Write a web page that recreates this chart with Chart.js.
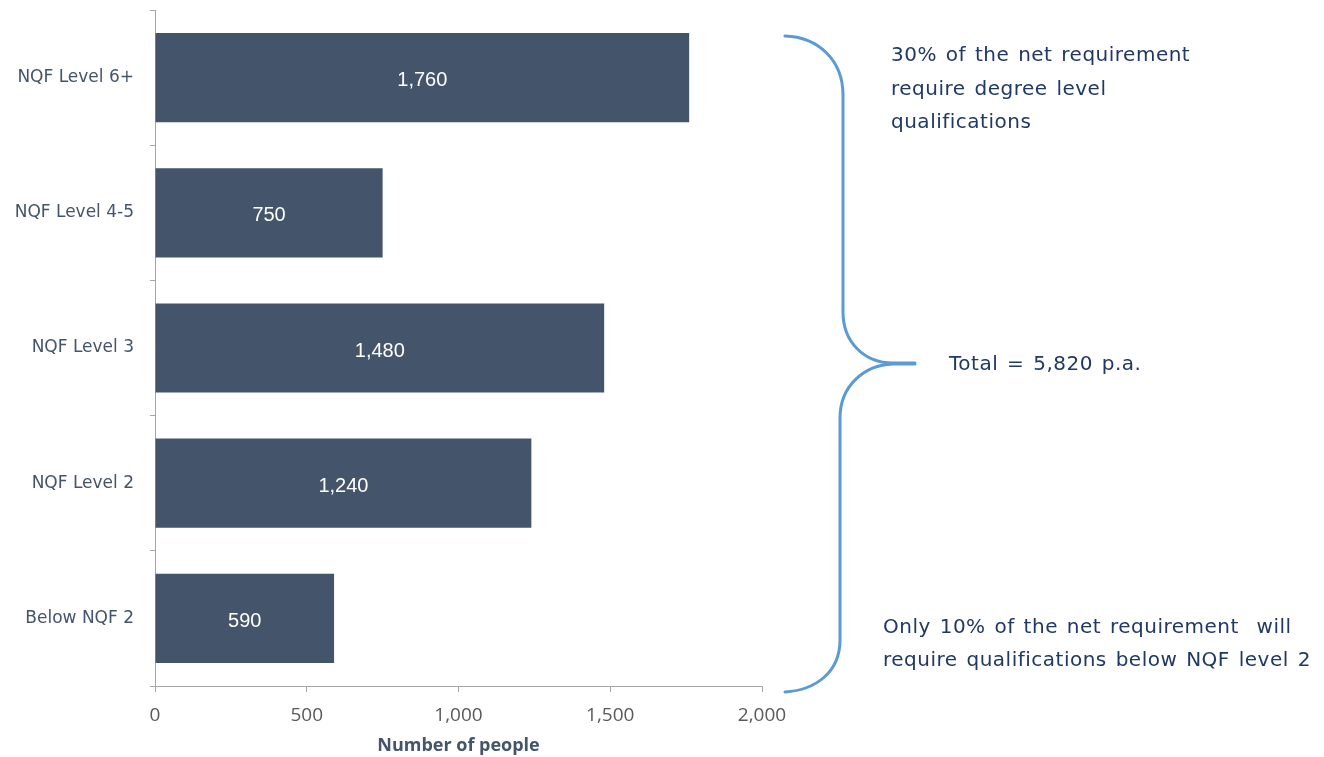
<!DOCTYPE html>
<html>
<head>
<meta charset="utf-8">
<script src="https://cdn.jsdelivr.net/npm/chart.js@4/dist/chart.umd.min.js"></script>
<style>
  html, body { margin: 0; padding: 0; background: #fff; }
  #wrap { width: 1324px; height: 757px; }
</style>
</head>
<body>
<div id="wrap"><canvas id="qualChart" width="1324" height="757"></canvas></div>
<script>
var categories = ['NQF Level 6+', 'NQF Level 4-5', 'NQF Level 3', 'NQF Level 2', 'Below NQF 2'];
var people = [1760, 750, 1480, 1240, 590];
var xTicks = [0, 500, 1000, 1500, 2000];

var noteTop = ['30% of the net requirement', 'require degree level', 'qualifications'];
var noteTotal = 'Total = 5,820 p.a.';
var noteBottom = ['Only 10% of the net requirement  will', 'require qualifications below NQF level 2'];

var barColor = '#44546A';
var axisGrey = '#A6A6A6';
var navy = '#1F3864';
var braceBlue = '#5B9BD5';

// white value labels in the middle of each bar
var barLabels = {
  id: 'barLabels',
  afterDatasetsDraw: function(chart) {
    var ctx = chart.ctx;
    var meta = chart.getDatasetMeta(0);
    ctx.save();
    ctx.fillStyle = '#ffffff';
    ctx.font = '20px "Liberation Sans", Arial, sans-serif';
    ctx.textAlign = 'center';
    ctx.textBaseline = 'middle';
    meta.data.forEach(function(bar, i) {
      var p = bar.getProps(['x', 'y', 'base'], true);
      ctx.fillText(people[i].toLocaleString('en-US'), (p.x + p.base) / 2, p.y + 3);
    });
    ctx.restore();
  }
};

// the curly brace and the side notes
var sideNotes = {
  id: 'sideNotes',
  afterDraw: function(chart) {
    var ctx = chart.ctx;
    ctx.save();
    ctx.strokeStyle = braceBlue;
    ctx.lineWidth = 3;
    ctx.lineCap = 'round';
    ctx.beginPath();
    ctx.moveTo(785, 36);
    ctx.bezierCurveTo(818, 37, 843, 60, 843, 95);
    ctx.lineTo(843, 312);
    ctx.bezierCurveTo(843, 342, 864, 363, 893, 363);
    ctx.lineTo(915, 363);
    ctx.moveTo(915, 364);
    ctx.lineTo(893, 364);
    ctx.bezierCurveTo(864, 365, 840, 386, 840, 418);
    ctx.lineTo(840, 640);
    ctx.bezierCurveTo(840, 672, 816, 690, 785, 692);
    ctx.stroke();

    ctx.fillStyle = navy;
    ctx.font = '20px "DejaVu Sans", Verdana, sans-serif';
    ctx.textAlign = 'left';
    ctx.textBaseline = 'alphabetic';
    if ('letterSpacing' in ctx) ctx.letterSpacing = '0.5px';
    if ('wordSpacing' in ctx) ctx.wordSpacing = '2px';
    noteTop.forEach(function(t, i) { ctx.fillText(t, 891, 61 + i * 33.5); });
    ctx.fillText(noteTotal, 949, 370);
    noteBottom.forEach(function(t, i) { ctx.fillText(t, 883, 633 + i * 33); });
    ctx.restore();
  }
};

new Chart(document.getElementById('qualChart'), {
  type: 'bar',
  data: {
    labels: categories,
    datasets: [{
      label: 'Number of people',
      data: people,
      backgroundColor: barColor,
      borderWidth: 0,
      categoryPercentage: 1.0,
      barPercentage: 0.66
    }]
  },
  options: {
    indexAxis: 'y',
    responsive: false,
    animation: false,
    layout: { padding: { top: 10, right: 562, bottom: 0, left: 0 } },
    plugins: {
      legend: { display: false },
      tooltip: { enabled: false }
    },
    scales: {
      x: {
        min: 0,
        max: 2000,
        afterBuildTicks: function(scale) {
          scale.ticks = xTicks.map(function(v) { return { value: v }; });
        },
        afterFit: function(scale) { scale.height = 71; },
        border: { display: true, color: axisGrey, width: 1 },
        grid: { drawOnChartArea: false, drawTicks: true, tickLength: 6, color: axisGrey },
        ticks: {
          color: '#595959',
          font: { family: '"Open Sans", sans-serif', size: 19 },
          padding: 12,
          maxRotation: 0
        },
        title: {
          display: true,
          text: 'Number of people',
          color: barColor,
          font: { family: '"Open Sans", sans-serif', size: 18, weight: 'bold' },
          padding: { top: 0, bottom: 0 }
        }
      },
      y: {
        afterFit: function(scale) {
          scale.width = 155;
          scale.paddingTop = 0;
          scale.paddingBottom = 0;
        },
        border: { display: true, color: axisGrey, width: 1 },
        grid: { drawOnChartArea: false, drawTicks: true, tickLength: 5, color: axisGrey, offset: true },
        ticks: {
          color: barColor,
          font: { family: '"DejaVu Sans", Verdana, sans-serif', size: 17 },
          padding: 16
        }
      }
    }
  },
  plugins: [barLabels, sideNotes]
});
</script>
</body>
</html>
